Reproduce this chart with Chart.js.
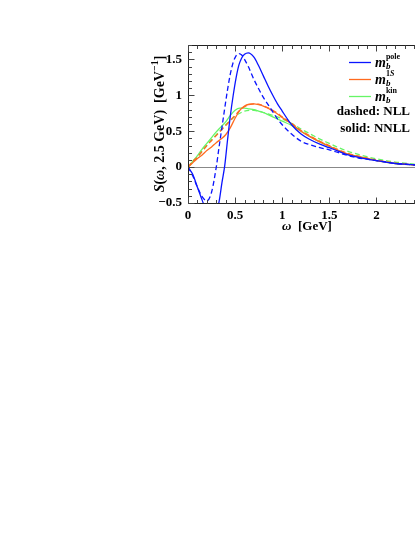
<!DOCTYPE html>
<html>
<head>
<meta charset="utf-8">
<script src="https://cdn.jsdelivr.net/npm/chart.js@4.4.0/dist/chart.umd.min.js"></script>
<style>
  body { margin: 0; background: #fff; }
  #wrap { width: 415px; height: 537px; position: relative; }
</style>
</head>
<body>
<div id="wrap"><canvas id="chart" width="415" height="537"></canvas></div>
<script>
// omega grids [GeV]
const omegaPole = [0, 0.05, 0.1, 0.15, 0.2, 0.25, 0.3, 0.33, 0.36, 0.39, 0.42, 0.45, 0.48, 0.51, 0.54, 0.57, 0.6, 0.64, 0.7, 0.75, 0.8, 0.85, 0.9, 0.95, 1.0, 1.05, 1.1, 1.2, 1.3, 1.4, 1.5, 1.6, 1.7, 1.8, 1.9, 2.0, 2.1, 2.2, 2.3, 2.4, 2.5];
const omega = [0, 0.05, 0.1, 0.15, 0.2, 0.25, 0.3, 0.35, 0.4, 0.45, 0.5, 0.55, 0.6, 0.65, 0.7, 0.75, 0.8, 0.85, 0.9, 0.95, 1.0, 1.1, 1.2, 1.3, 1.4, 1.5, 1.6, 1.7, 1.8, 1.9, 2.0, 2.1, 2.2, 2.3, 2.4, 2.5];

// S(omega, 2.5 GeV) [GeV^-1]
const poleNNLL = [0, -0.10, -0.28, -0.46, -0.62, -0.70, -0.62, -0.48, -0.22, 0.02, 0.38, 0.72, 1.00, 1.24, 1.42, 1.52, 1.57, 1.59, 1.53, 1.41, 1.27, 1.13, 1.00, 0.88, 0.78, 0.68, 0.59, 0.46, 0.38, 0.32, 0.27, 0.22, 0.17, 0.14, 0.11, 0.09, 0.07, 0.05, 0.04, 0.03, 0.02];
const poleNLL = [0, -0.12, -0.28, -0.41, -0.47, -0.35, 0.00, 0.28, 0.55, 0.82, 1.08, 1.30, 1.46, 1.55, 1.58, 1.56, 1.50, 1.40, 1.22, 1.09, 0.97, 0.87, 0.77, 0.67, 0.59, 0.52, 0.46, 0.36, 0.31, 0.27, 0.24, 0.20, 0.16, 0.13, 0.11, 0.09, 0.07, 0.05, 0.04, 0.03, 0.02];
const oneSNNLL = [0, 0.06, 0.12, 0.17, 0.23, 0.28, 0.34, 0.39, 0.45, 0.55, 0.68, 0.79, 0.85, 0.875, 0.88, 0.87, 0.85, 0.82, 0.78, 0.74, 0.69, 0.60, 0.50, 0.42, 0.35, 0.29, 0.23, 0.18, 0.15, 0.12, 0.09, 0.07, 0.05, 0.04, 0.03, 0.02];
const oneSNLL = [0, 0.08, 0.14, 0.22, 0.30, 0.37, 0.44, 0.51, 0.58, 0.65, 0.72, 0.79, 0.84, 0.87, 0.88, 0.875, 0.855, 0.825, 0.79, 0.75, 0.70, 0.61, 0.51, 0.43, 0.36, 0.30, 0.24, 0.19, 0.155, 0.125, 0.095, 0.075, 0.055, 0.04, 0.03, 0.02];
const kinNNLL = [0, 0.08, 0.16, 0.25, 0.33, 0.41, 0.49, 0.56, 0.63, 0.72, 0.79, 0.82, 0.82, 0.81, 0.80, 0.78, 0.76, 0.73, 0.70, 0.67, 0.64, 0.58, 0.50, 0.42, 0.35, 0.29, 0.23, 0.18, 0.15, 0.12, 0.09, 0.07, 0.05, 0.04, 0.03, 0.02];
const kinNLL = [0, 0.07, 0.14, 0.22, 0.30, 0.38, 0.45, 0.52, 0.59, 0.65, 0.71, 0.75, 0.78, 0.79, 0.79, 0.78, 0.76, 0.74, 0.72, 0.70, 0.67, 0.61, 0.53, 0.46, 0.39, 0.33, 0.27, 0.22, 0.18, 0.145, 0.115, 0.09, 0.07, 0.055, 0.04, 0.03];

const xTicks = [0, 0.5, 1, 1.5, 2];
const yTicks = [-0.5, 0, 0.5, 1, 1.5];

const BLUE = '#0a14ff';
const ORANGE = '#ff6a1f';
const GREEN = '#66f566';
const FONT = '"Liberation Serif", "DejaVu Serif", serif';

const pts = (xs, ys) => xs.map((x, i) => ({ x: x, y: ys[i] }));

function series(label, xs, ys, color, dashed) {
  return {
    label: label,
    data: pts(xs, ys),
    borderColor: color,
    borderWidth: 1.3,
    borderDash: dashed ? [5, 3] : [],
    pointRadius: 0,
    cubicInterpolationMode: 'monotone',
    fill: false
  };
}

// zero line, frame and inward ticks
const framePlugin = {
  id: 'frame',
  beforeDatasetsDraw(chart) {
    const { ctx, chartArea: a, scales: { x, y } } = chart;
    ctx.save();
    ctx.strokeStyle = '#888';
    ctx.lineWidth = 1;
    const y0 = Math.round(y.getPixelForValue(0)) + 0.5;
    ctx.beginPath();
    ctx.moveTo(a.left, y0);
    ctx.lineTo(a.right, y0);
    ctx.stroke();
    ctx.restore();
  },
  afterDatasetsDraw(chart) {
    const { ctx, chartArea: a, scales: { x, y } } = chart;
    ctx.save();
    ctx.strokeStyle = '#222';
    ctx.lineWidth = 1;
    const L = Math.round(a.left) + 0.5, T = Math.round(a.top) + 0.5, B = Math.round(a.bottom) + 0.5;
    ctx.beginPath();
    ctx.moveTo(a.right + 1, T); ctx.lineTo(L, T); ctx.lineTo(L, B); ctx.lineTo(a.right + 1, B);
    ctx.stroke();
    ctx.strokeStyle = '#444';
    ctx.beginPath();
    for (let i = 0; i <= 24; i++) {
      const v = i / 10;
      if (v > x.max) break;
      const px = Math.round(x.getPixelForValue(v)) + 0.5;
      const len = i % 5 === 0 ? 6 : 3.5;
      ctx.moveTo(px, B); ctx.lineTo(px, B - len);
      ctx.moveTo(px, T); ctx.lineTo(px, T + len);
    }
    for (let i = -5; i <= 17; i++) {
      const v = i / 10;
      const py = Math.round(y.getPixelForValue(v)) + 0.5;
      const len = i % 5 === 0 ? 6 : 3.5;
      ctx.moveTo(L, py); ctx.lineTo(L + len, py);
    }
    ctx.stroke();
    ctx.restore();
  }
};

// draw a run of styled text pieces starting at x
function drawRuns(ctx, runs, x, y) {
  let cx = x;
  runs.forEach(r => {
    ctx.font = r.font;
    ctx.fillText(r.t, cx, y + (r.dy || 0));
    cx += ctx.measureText(r.t).width;
  });
  return cx;
}
function runsWidth(ctx, runs) {
  let w = 0;
  runs.forEach(r => { ctx.font = r.font; w += ctx.measureText(r.t).width; });
  return w;
}

const textPlugin = {
  id: 'texts',
  afterDraw(chart) {
    const { ctx, chartArea: a, scales: { x, y } } = chart;
    ctx.save();
    ctx.fillStyle = '#000';
    ctx.textBaseline = 'middle';
    ctx.textAlign = 'left';
    const n = 'bold 13px ' + FONT, it = 'italic bold 13px ' + FONT;
    const tn = 'bold 14px ' + FONT, tit = 'italic bold 14px ' + FONT, sup = 'bold 10px ' + FONT;

    // y title
    const yRuns = [
      { t: 'S', font: tit }, { t: '(', font: tn }, { t: 'ω', font: tit },
      { t: ', 2.5 GeV)  [GeV', font: tn }, { t: '−1', font: sup, dy: -5 }, { t: ']', font: tn }
    ];
    ctx.save();
    ctx.translate(160, (a.top + a.bottom) / 2);
    ctx.rotate(-Math.PI / 2);
    drawRuns(ctx, yRuns, -runsWidth(ctx, yRuns) / 2, 0);
    ctx.restore();

    // x title
    const xRuns = [{ t: 'ω', font: it }, { t: '  [GeV]', font: n }];
    drawRuns(ctx, xRuns, 307 - runsWidth(ctx, xRuns) / 2, 227);

    // legend
    const rows = [
      { sup: 'pole', c: BLUE, y: 62 },
      { sup: '1S', c: ORANGE, y: 79, supItalic: true },
      { sup: 'kin', c: GREEN, y: 96 }
    ];
    rows.forEach(r => {
      ctx.strokeStyle = r.c;
      ctx.lineWidth = 1.3;
      ctx.beginPath();
      ctx.moveTo(349, r.y + 0.5); ctx.lineTo(371, r.y + 0.5);
      ctx.stroke();
      ctx.font = 'italic bold 14px ' + FONT;
      ctx.fillText('m', 375, r.y + 1);
      const mx = 375 + ctx.measureText('m').width;
      ctx.font = 'italic bold 9px ' + FONT;
      ctx.fillText('b', mx, r.y + 5);
      ctx.font = 'bold 8px ' + FONT;
      if (r.supItalic) {
        ctx.fillText('1', mx, r.y - 5);
        const w1 = ctx.measureText('1').width;
        ctx.font = 'italic bold 8px ' + FONT;
        ctx.fillText('S', mx + w1, r.y - 5);
      } else {
        ctx.fillText(r.sup, mx, r.y - 5);
      }
    });
    ctx.textAlign = 'right';
    ctx.font = n;
    ctx.fillText('dashed: NLL', 410, 112);
    ctx.fillText('solid: NNLL', 410, 129);
    ctx.restore();
  }
};

const fmt = v => (v < 0 ? '−' + Math.abs(v) : String(v));

new Chart(document.getElementById('chart'), {
  type: 'line',
  data: {
    datasets: [
      series('pole NNLL', omegaPole, poleNNLL, BLUE, false),
      series('pole NLL', omegaPole, poleNLL, BLUE, true),
      series('1S NNLL', omega, oneSNNLL, ORANGE, false),
      series('1S NLL', omega, oneSNLL, ORANGE, true),
      series('kin NNLL', omega, kinNNLL, GREEN, false),
      series('kin NLL', omega, kinNLL, GREEN, true)
    ]
  },
  options: {
    responsive: false,
    animation: false,
    layout: { padding: { left: 0, top: 45, right: 0, bottom: 0 } },
    plugins: { legend: { display: false }, tooltip: { enabled: false } },
    scales: {
      x: {
        type: 'linear',
        min: 0,
        max: 2.41,
        grid: { display: false, drawTicks: false },
        border: { display: false },
        afterFit: s => { s.height = 334; },
        afterBuildTicks: s => { s.ticks = xTicks.map(v => ({ value: v })); },
        ticks: {
          autoSkip: false, maxRotation: 0, padding: 5, color: '#000',
          font: { family: FONT, size: 13, weight: 'bold' },
          callback: fmt
        }
      },
      y: {
        type: 'linear',
        min: -0.5,
        max: 1.7,
        grid: { display: false, drawTicks: false },
        border: { display: false },
        afterFit: s => { s.width = 188; },
        afterBuildTicks: s => { s.ticks = yTicks.map(v => ({ value: v })); },
        ticks: {
          autoSkip: false, padding: 6, color: '#000',
          font: { family: FONT, size: 13, weight: 'bold' },
          callback: fmt
        }
      }
    }
  },
  plugins: [framePlugin, textPlugin]
});
</script>
</body>
</html>
